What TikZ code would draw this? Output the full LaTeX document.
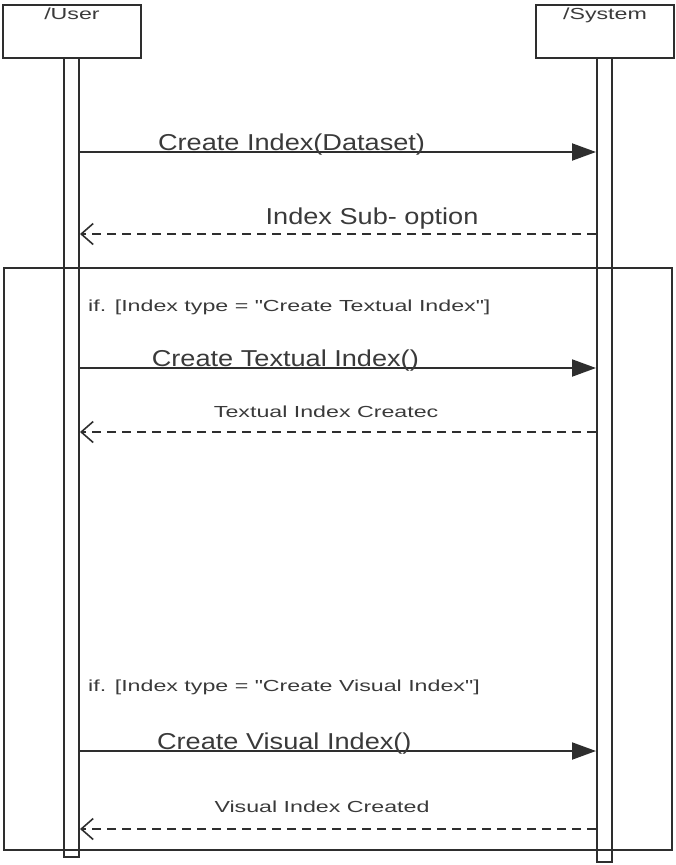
\documentclass[tikz,border=0pt]{standalone}
\usepackage{fontspec}
\setmainfont{Liberation Sans}
\newfontfamily\msgfont[FakeStretch=1.18]{Liberation Sans}
\newfontfamily\notefont[FakeStretch=1.45]{Liberation Sans}
\usetikzlibrary{positioning,arrows.meta}
\definecolor{SeqLine}{HTML}{2E2E2E}
\definecolor{SeqText}{HTML}{3A3A3A}

\begin{document}
\begin{tikzpicture}[
  x=1pt, y=-1pt,
  head/.style={draw=SeqLine,line width=2.2pt,minimum width=138pt,
               minimum height=53pt,inner sep=0pt},
  bar/.style={draw=SeqLine,line width=2pt,minimum width=15pt,inner sep=0pt},
  altbox/.style={draw=SeqLine,line width=2.2pt,minimum width=668pt,
                 minimum height=582pt,inner sep=0pt},
  call/.style={-{Triangle[length=24pt,width=17pt]},line width=2pt,SeqLine},
  reply/.style={-{Straight Barb[length=12pt,width=21pt,line width=1.6pt]},
                line width=1.6pt,SeqLine,dash pattern=on 9pt off 6pt},
  big/.style={font=\msgfont\fontsize{23pt}{27pt}\selectfont,text=SeqText,
              anchor=base,inner sep=0pt},
  small/.style={font=\notefont\fontsize{16pt}{19pt}\selectfont,text=SeqText,
                anchor=base,inner sep=0pt},
]
\useasboundingbox (0,0) rectangle (675,865);

% alt frame behind the lifelines
\node[altbox] (alt) at (338,559) {};

% lifelines: heads and activation bars
\node[head] (user) at (72,31.5) {};
\node[head] (sys)  at (605,31.5) {};
\node[small,anchor=north] (userlbl) at ([yshift=-4pt]user.north) {/User};
\node[small,anchor=north] (syslbl)  at ([yshift=-4pt]sys.north) {/System};
\node[bar,minimum height=799pt] (ubar) at (71.5,457.5) {};
\node[bar,minimum height=804pt] (sbar) at (604.5,460) {};

% message levels
\coordinate (m1) at (0,152);
\coordinate (m2) at (0,234);
\coordinate (m3) at (0,368);
\coordinate (m4) at (0,432);
\coordinate (m5) at (0,751);
\coordinate (m6) at (0,829);

\draw[call]  (ubar.east |- m1) -- (sbar.west |- m1)
  node[big,pos=0.41,yshift=2pt] {Create Index(Dataset)};
\draw[reply] (sbar.west |- m2) -- (ubar.east |- m2)
  node[big,pos=0.434,yshift=10pt] {Index Sub- option};

% guard 1
\node[small,anchor=base west] (guard1) at (88,311)
  {if. [Index type = "Create Textual Index"]};
\draw[call]  (ubar.east |- m3) -- (sbar.west |- m3)
  node[big,pos=0.398,yshift=2pt] {Create Textual Index()};
\draw[reply] (sbar.west |- m4) -- (ubar.east |- m4)
  node[small,pos=0.523,yshift=15pt] {Textual Index Createc};

% guard 2
\node[small,anchor=base west] (guard2) at (88,691)
  {if. [Index type = "Create Visual Index"]};
\draw[call]  (ubar.east |- m5) -- (sbar.west |- m5)
  node[big,pos=0.396,yshift=2pt] {Create Visual Index()};
\draw[reply] (sbar.west |- m6) -- (ubar.east |- m6)
  node[small,pos=0.531,yshift=17pt] {Visual Index Created};
\end{tikzpicture}
\end{document}
